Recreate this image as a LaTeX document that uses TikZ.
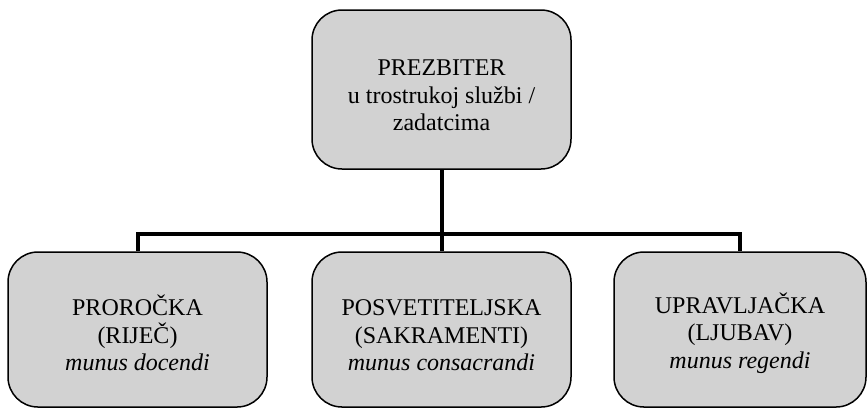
\documentclass[tikz,border=0pt]{standalone}
\usepackage{fontspec}
\setmainfont{Liberation Serif}
\definecolor{boxgray}{RGB}{210,210,210}
\newcommand{\boxstrut}{\rule{0pt}{14pt}}

\begin{document}
\begin{tikzpicture}[x=0.5pt,y=-0.5pt,
  box/.style={draw,line width=0.75pt,rounded corners=15pt,fill=boxgray,align=center,inner sep=0pt,
    minimum width=129.5pt,minimum height=77.5pt,font=\fontsize{12}{13.8}\selectfont},
  conn/.style={line width=2pt,line join=miter}]
\useasboundingbox (0,0) rectangle (867,409);

\node[box,minimum height=79.5pt] (prezbiter) at (441.5,89.5) {\boxstrut PREZBITER\\u trostrukoj službi /\\zadatcima};

\node[box] (prorocka) at (137.5,329.5) {\boxstrut PROROČKA\\(RIJEČ)\\\textit{munus docendi}};
\node[box] (posvetiteljska) at (441.5,329.5) {\boxstrut POSVETITELJSKA\\(SAKRAMENTI)\\\textit{munus consacrandi}};
\node[box,minimum width=126pt] (upravljacka) at (740,329.5) {\boxstrut UPRAVLJAČKA\\(LJUBAV)\\\textit{munus regendi}};

\coordinate (bar) at (441.5,233.5);
\draw[conn] (prezbiter.south) -- (posvetiteljska.north);
\draw[conn] (prorocka.north) |- (bar) -| (upravljacka.north);

\end{tikzpicture}
\end{document}
